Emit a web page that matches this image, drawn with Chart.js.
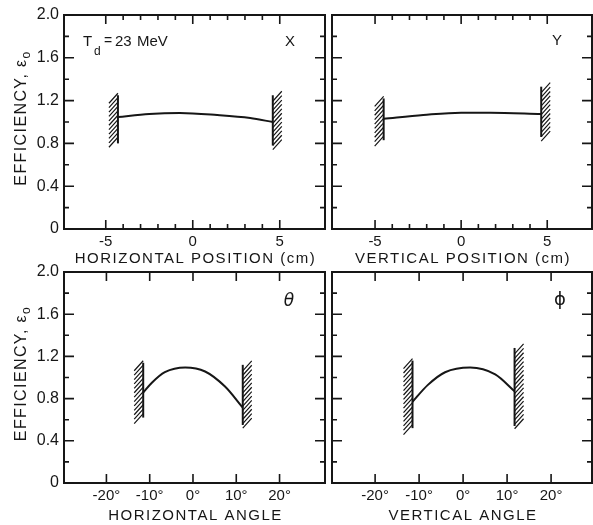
<!DOCTYPE html>
<html>
<head>
<meta charset="utf-8">
<script src="https://cdn.jsdelivr.net/npm/chart.js@4.4.1/dist/chart.umd.min.js"></script>
<style>
  html, body { margin: 0; padding: 0; background: #fff; }
  #wrap { position: relative; width: 593px; height: 525px; background: #fff; }
  #wrap canvas { position: absolute; left: 0; top: 0; }
</style>
</head>
<body>
<div id="wrap">
  <canvas id="c1" width="593" height="525"></canvas>
  <canvas id="c2" width="593" height="525"></canvas>
  <canvas id="c3" width="593" height="525"></canvas>
  <canvas id="c4" width="593" height="525"></canvas>
</div>
<script>
// ---- data ----
// horizontal position (cm) vs efficiency
const hPosX   = [-4.3, -2.5, -0.75, 1.4, 3.3, 4.6];
const hPosEff = [1.047, 1.075, 1.084, 1.065, 1.037, 1.0];
const hPosWallX  = [-4.3, 4.6];
const hPosWallLo = [0.80, 0.78];
const hPosWallHi = [1.25, 1.25];

// vertical position (cm)
const vPosX   = [-4.5, -2.2, 0, 1.7, 4.65];
const vPosEff = [1.03, 1.065, 1.087, 1.087, 1.075];
const vPosWallX  = [-4.5, 4.65];
const vPosWallLo = [0.83, 0.86];
const vPosWallHi = [1.22, 1.33];

// horizontal angle (deg)
const hAngX   = [-11.5, -9.5, -6.5, -1.8, 2.8, 7.4, 11.5];
const hAngEff = [0.857, 0.95, 1.05, 1.095, 1.057, 0.914, 0.714];
const hAngWallX  = [-11.5, 11.5];
const hAngWallLo = [0.62, 0.55];
const hAngWallHi = [1.14, 1.12];

// vertical angle (deg)
const vAngX   = [-11.5, -8.0, -4.1, 1.6, 7.3, 11.7];
const vAngEff = [0.77, 0.93, 1.05, 1.095, 1.03, 0.87];
const vAngWallX  = [-11.5, 11.7];
const vAngWallLo = [0.52, 0.54];
const vAngWallHi = [1.16, 1.28];

// ticks
const posTicks  = [-5, -4, -3, -2, -1, 0, 1, 2, 3, 4, 5];
const posLabels = ['-5', '', '', '', '', '0', '', '', '', '', '5'];
const angTicks  = [-20, -10, 0, 10, 20];
const angLabels = ['-20\u00b0', '-10\u00b0', '0\u00b0', '10\u00b0', '20\u00b0'];
const effTicks  = [0, 0.2, 0.4, 0.6, 0.8, 1.0, 1.2, 1.4, 1.6, 1.8, 2.0];
const effLabels = ['0', '', '0.4', '', '0.8', '', '1.2', '', '1.6', '', '2.0'];

const INK = '#161616';
const FONT = '"Liberation Sans", Arial, sans-serif';
const Y_BOX = 50;   // room for y tick labels
const X_BOX = 24;   // room for x tick labels

function panel(id, xs, ys, wallX, wallLo, wallHi, o) {
  // frame with inward ticks on all four sides
  const framePlugin = {
    id: 'frame',
    afterDatasetsDraw(chart) {
      const { ctx, chartArea: a, scales: { x, y } } = chart;
      ctx.save();
      ctx.strokeStyle = INK;
      ctx.lineWidth = 2;
      ctx.strokeRect(a.left, a.top, a.right - a.left, a.bottom - a.top);
      ctx.lineWidth = 1.6;
      ctx.beginPath();
      o.xTicks.forEach((v, i) => {
        const px = x.getPixelForValue(v);
        const len = o.xLabels[i] !== '' ? 9 : 5;
        ctx.moveTo(px, a.bottom); ctx.lineTo(px, a.bottom - len);
        ctx.moveTo(px, a.top); ctx.lineTo(px, a.top + len);
      });
      effTicks.forEach((v, i) => {
        const py = y.getPixelForValue(v);
        const len = effLabels[i] !== '' ? 10 : 5;
        ctx.moveTo(a.left, py); ctx.lineTo(a.left + len, py);
        ctx.moveTo(a.right, py); ctx.lineTo(a.right - len, py);
      });
      ctx.stroke();
      ctx.restore();
    }
  };

  // hatching on the outer side of each wall
  const hatchPlugin = {
    id: 'hatch',
    afterDatasetsDraw(chart) {
      const { ctx } = chart;
      ctx.save();
      ctx.strokeStyle = INK;
      ctx.lineWidth = 1.2;
      ctx.beginPath();
      chart.data.datasets.forEach((ds, i) => {
        if (!ds.wall) return;
        const pts = chart.getDatasetMeta(i).data;
        const px = pts[0].x, yLo = pts[0].y, yHi = pts[1].y;
        const side = ds.data[0].x < 0 ? -1 : 1;
        for (let yy = yHi + 2; yy <= yLo + 1; yy += 4.4) {
          if (side < 0) { ctx.moveTo(px, yy - 4); ctx.lineTo(px - 9, yy + 6); }
          else { ctx.moveTo(px, yy + 4); ctx.lineTo(px + 9, yy - 6); }
        }
      });
      ctx.stroke();
      ctx.restore();
    }
  };

  // titles and panel labels
  const textPlugin = {
    id: 'texts',
    afterDraw(chart) {
      const { ctx, chartArea: a } = chart;
      ctx.save();
      ctx.fillStyle = INK;
      ctx.textAlign = 'center';
      ctx.textBaseline = 'middle';
      // x title, letters spread a little
      ctx.font = '15px ' + FONT;
      ctx.letterSpacing = '1.5px';
      ctx.fillText(o.xTitle, (a.left + a.right) / 2 + 1, o.xTitleY);
      ctx.letterSpacing = '0px';
      // y title
      if (o.yTitle) {
        ctx.save();
        ctx.translate(22, (a.top + a.bottom) / 2 - 4);
        ctx.rotate(-Math.PI / 2);
        ctx.font = '16px ' + FONT;
        ctx.letterSpacing = '1.4px';
        const main = 'EFFICIENCY, \u03b5';
        const w1 = ctx.measureText(main).width;
        ctx.font = '12px ' + FONT;
        const w2 = ctx.measureText('o').width;
        const start = -(w1 + w2) / 2;
        ctx.textAlign = 'left';
        ctx.font = '16px ' + FONT;
        ctx.fillText(main, start, 0);
        ctx.font = '12px ' + FONT;
        ctx.fillText('o', start + w1, 5);
        ctx.letterSpacing = '0px';
        ctx.restore();
      }
      // panel letter
      ctx.font = o.labelFont;
      ctx.fillText(o.label, o.labelX, o.labelY);
      // energy note
      if (o.note) {
        ctx.textAlign = 'left';
        ctx.font = '15px ' + FONT;
        ctx.fillText('T', 83, 42);
        ctx.font = '12px ' + FONT;
        ctx.fillText('d', 94, 52);
        ctx.font = '14px ' + FONT;
        ctx.fillText('=', 104, 41);
        ctx.font = '15px ' + FONT;
        ctx.fillText('23', 115, 42);
        ctx.fillText('MeV', 137, 42);
      }
      ctx.restore();
    }
  };

  const datasets = [{
    data: xs.map((x, i) => ({ x, y: ys[i] })),
    borderColor: INK, borderWidth: 2, pointRadius: 0,
    cubicInterpolationMode: 'monotone'
  }];
  wallX.forEach((x, i) => datasets.push({
    data: [{ x, y: wallLo[i] }, { x, y: wallHi[i] }],
    borderColor: INK, borderWidth: 2, pointRadius: 0, wall: true
  }));
  const yBox = o.showY ? Y_BOX : 0;
  return new Chart(document.getElementById(id), {
    type: 'line',
    data: { datasets },
    plugins: [framePlugin, hatchPlugin, textPlugin],
    options: {
      responsive: false,
      animation: false,
      events: [],
      layout: { padding: { left: o.area[0] - yBox, right: 593 - o.area[1], top: o.area[2], bottom: 525 - o.area[3] - X_BOX } },
      plugins: { legend: { display: false }, tooltip: { enabled: false } },
      scales: {
        x: {
          type: 'linear', min: o.xMin, max: o.xMax,
          afterFit: s => { s.height = X_BOX; },
          afterBuildTicks: s => { s.ticks = o.xTicks.map(v => ({ value: v })); },
          grid: { display: false, drawTicks: false },
          border: { display: false },
          ticks: {
            autoSkip: false, maxRotation: 0, padding: 4, color: INK,
            font: { family: FONT, size: 15 },
            callback: (v, i) => o.xLabels[i]
          }
        },
        y: {
          type: 'linear', min: 0, max: 2,
          afterFit: s => { s.width = yBox; },
          afterBuildTicks: s => { s.ticks = effTicks.map(v => ({ value: v })); },
          grid: { display: false, drawTicks: false },
          border: { display: false },
          ticks: {
            display: o.showY, autoSkip: false, padding: 5, color: INK,
            font: { family: FONT, size: 16 },
            callback: (v, i) => effLabels[i]
          }
        }
      }
    }
  });
}

// area: [left, right, top, bottom] of the plot frame in page pixels
panel('c1', hPosX, hPosEff, hPosWallX, hPosWallLo, hPosWallHi, {
  area: [64, 325, 15, 229],
  xMin: -7.4, xMax: 7.6, xTicks: posTicks, xLabels: posLabels, showY: true,
  xTitle: 'HORIZONTAL POSITION (cm)', xTitleY: 259, yTitle: true,
  label: 'X', labelX: 290, labelY: 42, labelFont: '15px ' + FONT, note: true
});
panel('c2', vPosX, vPosEff, vPosWallX, vPosWallLo, vPosWallHi, {
  area: [332, 592, 15, 229],
  xMin: -7.5, xMax: 7.6, xTicks: posTicks, xLabels: posLabels, showY: false,
  xTitle: 'VERTICAL POSITION (cm)', xTitleY: 259, yTitle: false,
  label: 'Y', labelX: 557, labelY: 41, labelFont: '15px ' + FONT
});
panel('c3', hAngX, hAngEff, hAngWallX, hAngWallLo, hAngWallHi, {
  area: [64, 325, 272, 483],
  xMin: -29.8, xMax: 30.5, xTicks: angTicks, xLabels: angLabels, showY: true,
  xTitle: 'HORIZONTAL ANGLE', xTitleY: 516, yTitle: true,
  label: '\u03b8', labelX: 289, labelY: 302, labelFont: 'italic 17px "DejaVu Sans", sans-serif'
});
panel('c4', vAngX, vAngEff, vAngWallX, vAngWallLo, vAngWallHi, {
  area: [332, 592, 272, 483],
  xMin: -29.8, xMax: 29.3, xTicks: angTicks, xLabels: angLabels, showY: false,
  xTitle: 'VERTICAL ANGLE', xTitleY: 516, yTitle: false,
  label: '\u03d5', labelX: 560, labelY: 300, labelFont: '18px "DejaVu Sans", sans-serif'
});
</script>
</body>
</html>
